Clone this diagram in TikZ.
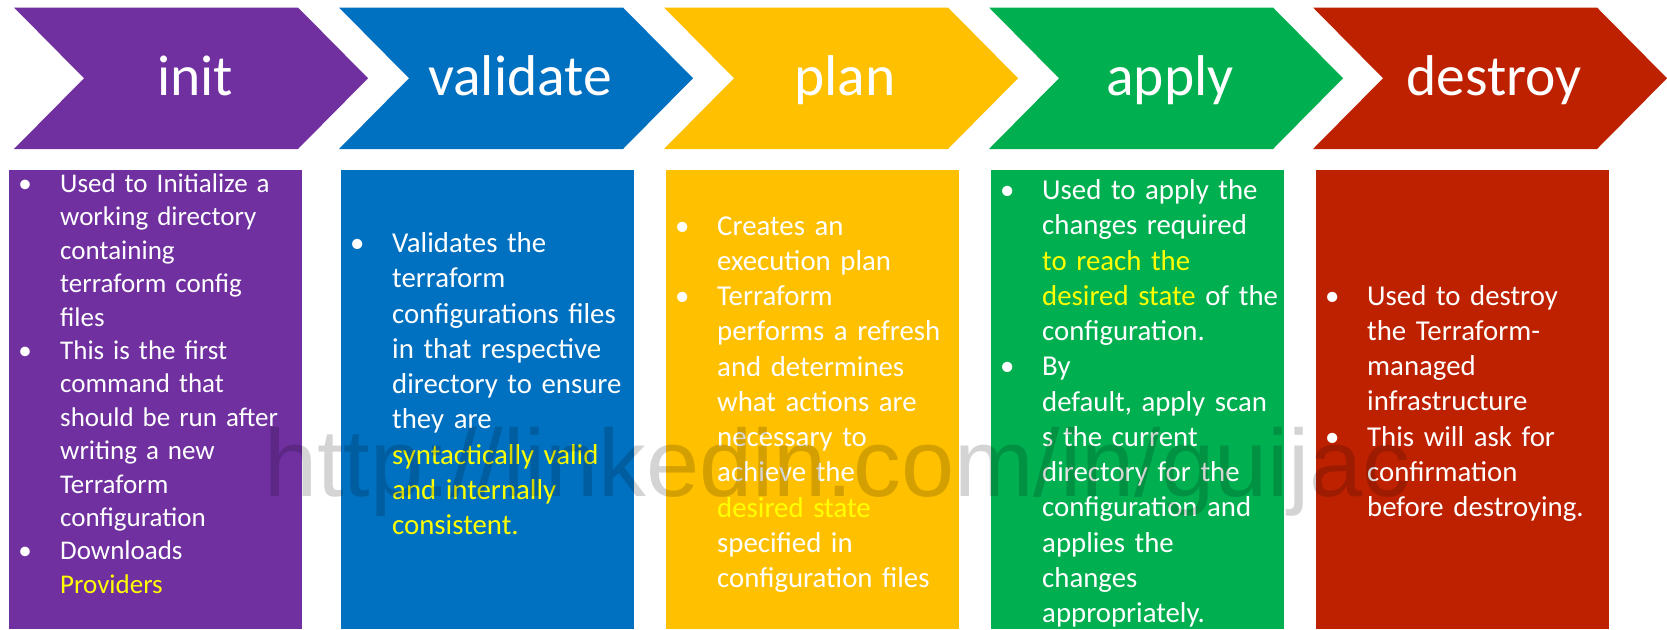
\documentclass[tikz,border=0pt]{standalone}
\usepackage{fontspec}
\setmainfont{Carlito}
\newfontfamily\wmfont{Liberation Sans}
\definecolor{cpurple}{HTML}{7030A0}
\definecolor{cblue}{HTML}{0070C0}
\definecolor{cyellow}{HTML}{FFC000}
\definecolor{cgreen}{HTML}{00B050}
\definecolor{cred}{HTML}{BE2100}
\definecolor{hl}{HTML}{FFFF00}
\newcommand\bul{\leavevmode\llap{\makebox[70pt]{•}}}
\newcommand\hi[1]{\textcolor{hl}{#1}}
\newcommand\fl{\leavevmode\rule{0pt}{30pt}}
\newcommand\chevronat[2]{\path[fill=#2] (#1,7.5) -- ++(284,0) -- ++(70,70.75) -- ++(-70,70.75) -- ++(-284,0) -- ++(70,-70.75) -- cycle;}
\begin{document}
\begin{tikzpicture}[x=1pt,y=-1pt,
  title/.style={text=white, font=\fontsize{57.5pt}{60pt}\selectfont, anchor=base, inner sep=0pt},
  card/.style={fill=#1, draw=none, anchor=north west, minimum width=293pt, minimum height=459pt, inner sep=0pt, outer sep=0pt},
  body/.style={text=white, anchor=north west, inner sep=0pt, text width=290pt, align=left, font=\fontsize{28.8pt}{35.25pt}\selectfont},
  bodysmall/.style={body, font=\fontsize{27pt}{33.4pt}\selectfont},
  wmark/.style={anchor=base west, inner sep=0pt, font=\wmfont\fontsize{95.5pt}{100pt}\selectfont, text=black, text opacity=0.17}
]
\useasboundingbox (0,0) rectangle (1667,629);
\fill[white] (0,0) rectangle (1667,629);
% chevrons
\chevronat{14}{cpurple}
\chevronat{339}{cblue}
\chevronat{664}{cyellow}
\chevronat{989}{cgreen}
\chevronat{1313}{cred}
\node[title] (tinit) at (195,95) {init};
\node[title] (tvalidate) at (520,95) {validate};
\node[title] (tplan) at (845,95) {plan};
\node[title] (tapply) at (1170,95) {apply};
\node[title] (tdestroy) at (1494,95) {destroy};
% cards
\node[card=cpurple] (binit) at (9,170) {};
\node[card=cblue] (bvalidate) at (341,170) {};
\node[card=cyellow] (bplan) at (666,170) {};
\node[card=cgreen] (bapply) at (991,170) {};
\node[card=cred] (bdestroy) at (1316,170) {};
% texts
\node[bodysmall] (xinit) at (60,162.3) {\fl\bul Used to Initialize a\\
working directory\\
containing\\
terraform config\\
files\\
\bul This is the first\\
command that\\
should be run after\\
writing a new\\
Terraform\\
configuration\\
\bul Downloads\\
\hi{Providers}};
\node[body] (xvalidate) at (392,222.5) {\fl\bul Validates the\\
terraform\\
configurations files\\
in that respective\\
directory to ensure\\
they are\\
\hi{syntactically valid}\\
\hi{and internally}\\
\hi{consistent.}};
\node[body] (xplan) at (717,205) {\fl\bul Creates an\\
execution plan\\
\bul Terraform\\
performs a refresh\\
and determines\\
what actions are\\
necessary to\\
achieve the\\
\hi{desired state}\\
specified in\\
configuration files};
\node[body] (xapply) at (1042,169.3) {\fl\bul Used to apply the\\
changes required\\
\hi{to reach the}\\
\hi{desired state} of the\\
configuration.\\
\bul By\\
default, apply scan\\
s the current\\
directory for the\\
configuration and\\
applies the\\
changes\\
appropriately.};
\node[body] (xdestroy) at (1367,275) {\fl\bul Used to destroy\\
the Terraform-\\
managed\\
infrastructure\\
\bul This will ask for\\
confirmation\\
before destroying.};
% watermark
\node[wmark] (wm) at (264,496) {http://linkedin.com/in/guijac};
\end{tikzpicture}
\end{document}
